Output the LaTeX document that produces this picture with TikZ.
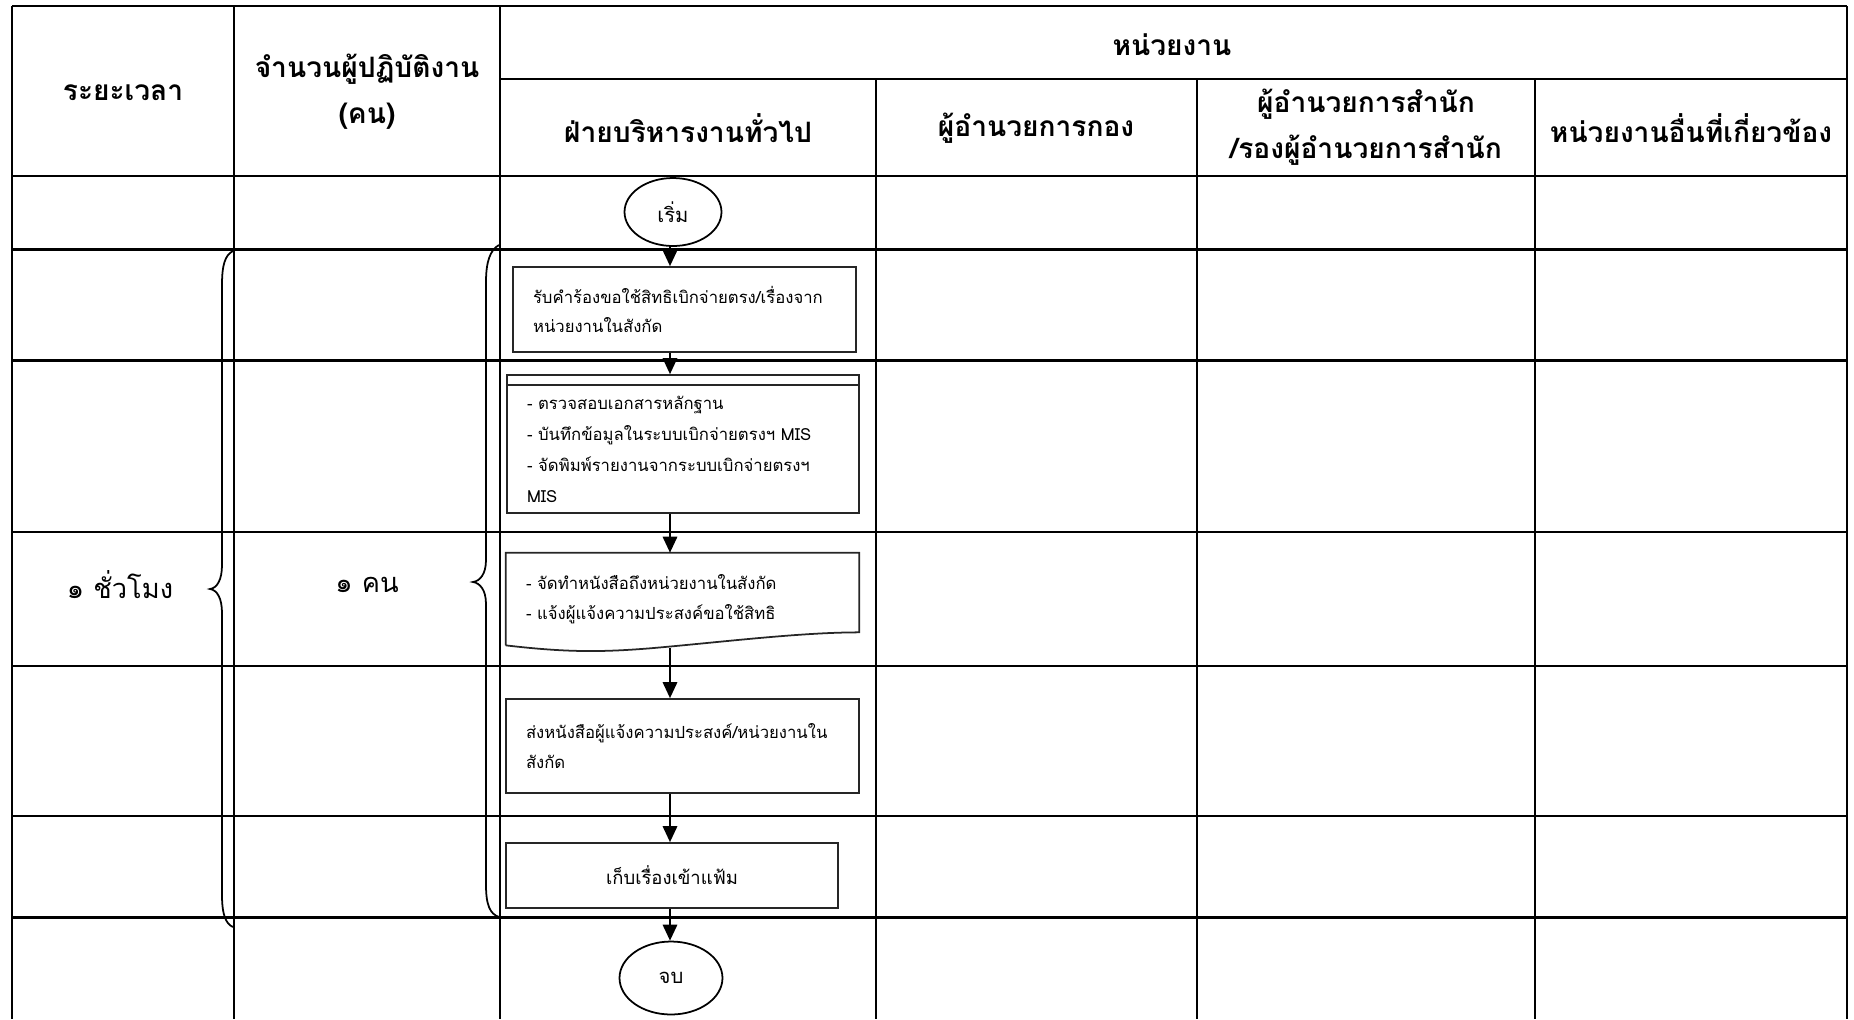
\documentclass[tikz,border=0pt]{standalone}
\usepackage{fontspec}
\newfontfamily\thai[Script=Thai]{Loma}
\usetikzlibrary{arrows.meta,shapes.geometric}
\begin{document}
\begin{tikzpicture}[x=0.02cm,y=-0.02cm,
  grid/.style={line width=1.3pt,black},
  hdr/.style={font=\thai\bfseries\fontsize{16}{26}\selectfont,align=center,inner sep=0pt},
  big/.style={font=\thai\fontsize{15.5}{26}\selectfont,inner sep=0pt},
  boxtxt/.style={font=\thai\fontsize{9.5}{17}\selectfont},
  pbox/.style={draw=black!85,line width=1pt,rectangle,boxtxt,align=left,inner xsep=0.4cm,inner ysep=0pt},
  term/.style={draw=black,line width=1pt,ellipse,inner sep=0pt,font=\thai\fontsize{11.5}{14}\selectfont},
  arr/.style={line width=1pt,-{Triangle[length=0.32cm,width=0.29cm]}},
  brace/.style={line width=1pt,black}]
\useasboundingbox (0,0) rectangle (1854,1019);
% grid
\draw[grid] (12,6) -- (1847,6);
\draw[grid] (500,79) -- (1847,79);
\foreach \yy in {176,249.5,360.6,532,665.7,816,917.6}{\draw[grid] (12,\yy) -- (1847,\yy);}
\foreach \xx in {12,234,500,1847}{\draw[grid] (\xx,6) -- (\xx,1019);}
\foreach \xx in {876,1197,1535}{\draw[grid] (\xx,79) -- (\xx,1019);}
% headers
\node[hdr] (h1) at (123,93) {ระยะเวลา};
\node[hdr] (h2) at (367,92) {จำนวนผู้ปฏิบัติงาน\\(คน)};
\node[hdr] (h3) at (1172,45) {หน่วยงาน};
\node[hdr] (h4) at (688,128) {ฝ่ายบริหารงานทั่วไป};
\node[hdr] (h5) at (1036,128) {ผู้อำนวยการกอง};
\node[hdr] (h6) at (1366,127) {ผู้อำนวยการสำนัก\\/รองผู้อำนวยการสำนัก};
\node[hdr] (h7) at (1691,128) {หน่วยงานอื่นที่เกี่ยวข้อง};
\node[big] (t1) at (120,585) {๑ ชั่วโมง};
\node[big] (t2) at (367,585) {๑ คน};
% braces
\draw[brace] (233,251) .. controls (225,255) and (222,265) .. (222,285) -- (222,565) .. controls (222,580) and (217,588) .. (210,589) .. controls (217,590) and (222,598) .. (222,613) -- (222,895) .. controls (222,915) and (226,924) .. (233,927);
\draw[brace] (499,245) .. controls (490,250) and (486,262) .. (486,282) -- (486,560) .. controls (486,574) and (480,581) .. (473,582) .. controls (480,583) and (486,590) .. (486,604) -- (486,885) .. controls (486,905) and (490,914) .. (499,917);
% flow
\coordinate (ax) at (670,0);
\node[term,minimum width=1.94cm,minimum height=1.36cm] (start) at (673,212) {เริ่ม};
\node[pbox,minimum width=6.86cm,minimum height=1.7cm,text width=6.06cm] (b1) at (684.5,309.5) {รับคำร้องขอใช้สิทธิเบิกจ่ายตรง/เรื่องจาก\\หน่วยงานในสังกัด};
\node[pbox,minimum width=7.04cm,minimum height=2.76cm,text width=6.24cm,font=\thai\fontsize{9.5}{17.6}\selectfont] (b2) at (683,444) {\rule{0pt}{14pt}- ตรวจสอบเอกสารหลักฐาน\\- บันทึกข้อมูลในระบบเบิกจ่ายตรงฯ MIS\\- จัดพิมพ์รายงานจากระบบเบิกจ่ายตรงฯ\\MIS};
\draw[line width=1pt,black!85] ([yshift=-0.22cm]b2.north west) -- ([yshift=-0.22cm]b2.north east);
\node[boxtxt,rectangle,align=left,minimum width=7.06cm,minimum height=1.84cm,text width=6.26cm,inner xsep=0.4cm,inner ysep=0pt] (b3) at (682.5,599) {- จัดทำหนังสือถึงหน่วยงานในสังกัด\\- แจ้งผู้แจ้งความประสงค์ขอใช้สิทธิ\\[8pt]};
\draw[line width=1pt,black!85] (b3.south west) -- (b3.north west) -- (b3.north east) -- ([shift={(0,-13)}]b3.south east) .. controls +(-60,0) and +(70,-6) .. ([shift={(144,3)}]b3.south west) .. controls +(-50,4) and +(60,7) .. (b3.south west);
\coordinate (b3b) at ([shift={(-12,3)}]b3.south);
\node[pbox,minimum width=7.06cm,minimum height=1.88cm,text width=6.26cm] (b4) at (682.5,746) {ส่งหนังสือผู้แจ้งความประสงค์/หน่วยงานใน\\สังกัด\\[6pt]};
\node[pbox,minimum width=6.64cm,minimum height=1.3cm,align=center,font=\thai\fontsize{10.5}{17}\selectfont] (b5) at (672,875.5) {เก็บเรื่องเข้าแฟ้ม};
\node[term,minimum width=2.06cm,minimum height=1.46cm] (end) at (671,978) {จบ};
\draw[arr] (start.south -| ax) -- (b1.north -| ax);
\draw[arr] (b1.south -| ax) -- (b2.north -| ax);
\draw[arr] (b2.south -| ax) -- (b3.north -| ax);
\draw[arr] (b3b -| ax) -- (b4.north -| ax);
\draw[arr] (b4.south -| ax) -- (b5.north -| ax);
\draw[arr] (b5.south -| ax) -- (end.north -| ax);
\end{tikzpicture}
\end{document}
